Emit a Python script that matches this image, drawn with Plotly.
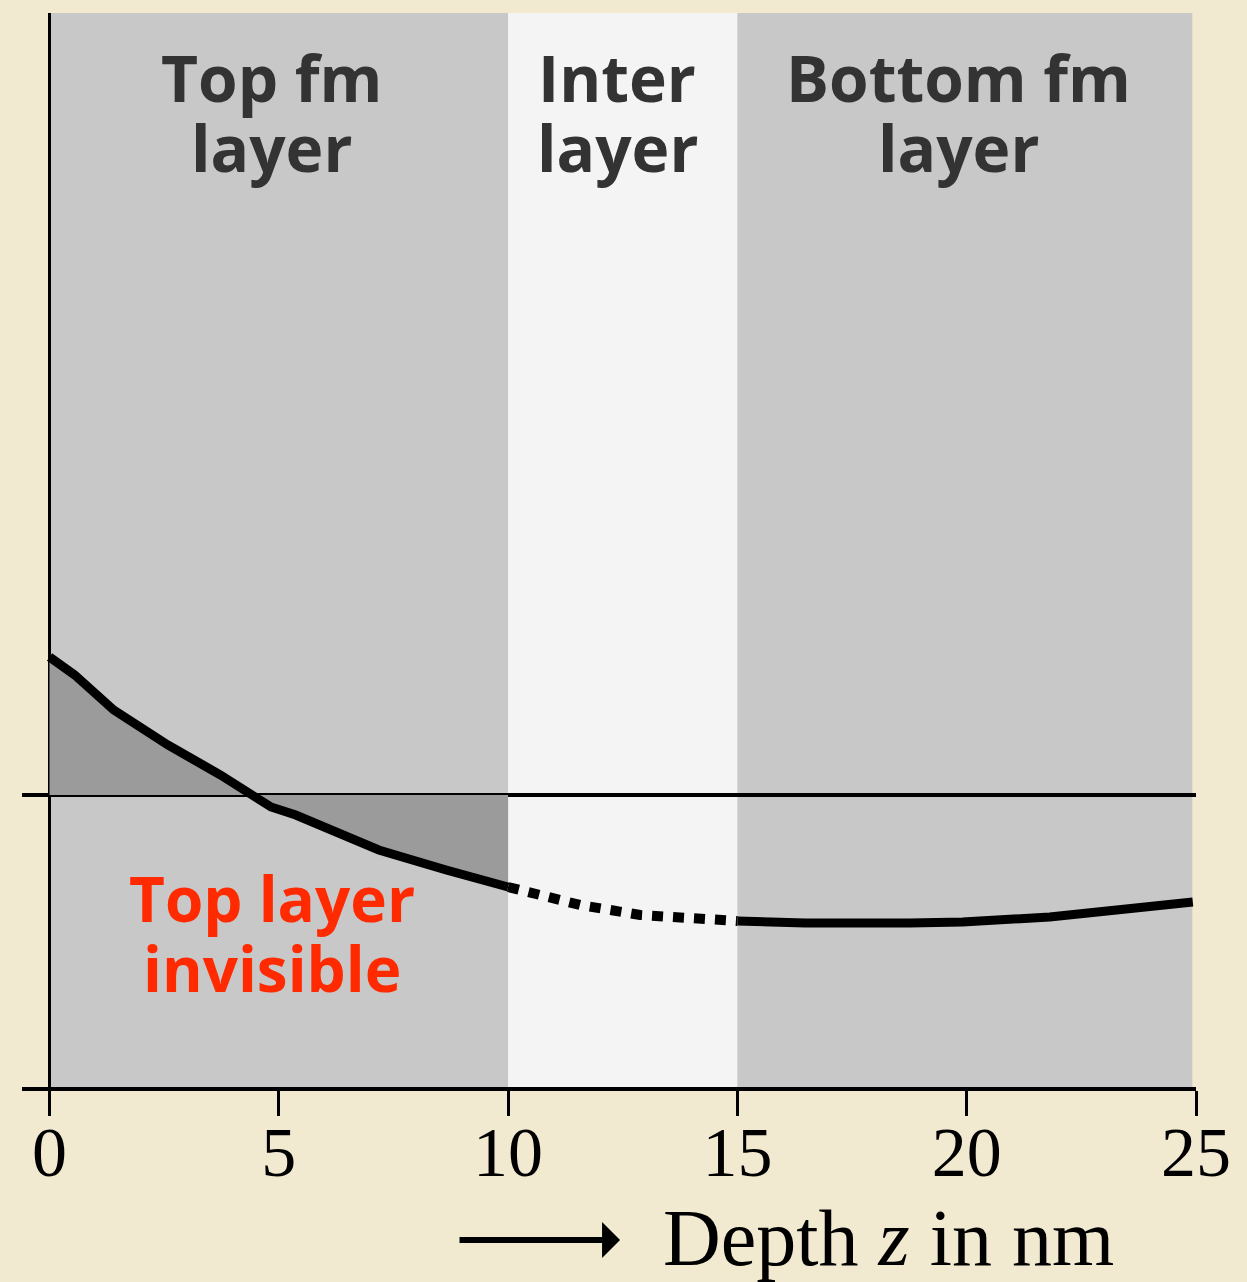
import plotly.graph_objects as go

# Magnetisation profile versus depth (arbitrary units, zero = compensation line)
top_depth = [0.0, 0.55, 1.40, 2.58, 3.73, 4.52, 4.83, 5.37, 7.18, 8.65, 10.0]
top_value = [1.38, 1.20, 0.85, 0.50, 0.20, -0.02, -0.12, -0.20, -0.55, -0.75, -0.92]

inter_depth = [10.0, 11.57, 12.88, 13.76, 15.0]
inter_value = [-0.92, -1.10, -1.20, -1.23, -1.26]

bottom_depth = [15.0, 16.48, 18.76, 19.91, 21.81, 24.93]
bottom_value = [-1.26, -1.28, -1.28, -1.27, -1.22, -1.07]

tick_values = [0, 5, 10, 15, 20, 25]
tick_labels = ["0", "5", "10", "15", "20", "25"]

# Layer bands: (start, end, colour)
layer_start = [0, 10, 15]
layer_end = [10, 15, 24.92]
layer_colour = ["#c8c8c8", "#f4f4f4", "#c8c8c8"]

PAPER = "#f2e9d1"
LABEL_FONT = "Open Sans"

fig = go.Figure()

# shaded area between top-layer profile and zero
fig.add_trace(go.Scatter(
    x=top_depth, y=top_value, mode="lines", fill="tozeroy",
    fillcolor="#9b9b9b", line=dict(width=0), hoverinfo="skip", showlegend=False))

fig.add_trace(go.Scatter(
    x=top_depth, y=top_value, mode="lines",
    line=dict(color="black", width=9), showlegend=False))
fig.add_trace(go.Scatter(
    x=inter_depth, y=inter_value, mode="lines",
    line=dict(color="black", width=10, dash="11px,10px"), showlegend=False))
fig.add_trace(go.Scatter(
    x=bottom_depth, y=bottom_value, mode="lines",
    line=dict(color="black", width=9), showlegend=False))

for s, e, c in zip(layer_start, layer_end, layer_colour):
    fig.add_shape(type="rect", xref="x", yref="y domain", x0=s, x1=e, y0=0, y1=1,
                  fillcolor=c, line=dict(width=0), layer="below")

header_font = dict(family=LABEL_FONT, size=64, color="#333333")
headers = [
    (4.85, "Top fm", "layer"),
    (12.38, "Inter", "layer"),
    (19.83, "Bottom fm", "layer"),
]
for xc, l1, l2 in headers:
    fig.add_annotation(x=xc, y=7.18, text=f"<b>{l1}</b>", showarrow=False,
                       font=header_font, xanchor="center", yanchor="middle")
    fig.add_annotation(x=xc, y=6.48, text=f"<b>{l2}</b>", showarrow=False,
                       font=header_font, xanchor="center", yanchor="middle")

red_font = dict(family=LABEL_FONT, size=62, color="#ff2a00")
fig.add_annotation(x=4.85, y=-1.03, text="<b>Top layer</b>", showarrow=False,
                   font=red_font, xanchor="center", yanchor="middle")
fig.add_annotation(x=4.85, y=-1.73, text="<b>invisible</b>", showarrow=False,
                   font=red_font, xanchor="center", yanchor="middle")

# axis title with leading arrow
fig.add_annotation(xref="paper", yref="paper", x=0.7377, y=-0.1406,
                   text="Depth <i>z</i> in nm", showarrow=False,
                   font=dict(family="Liberation Serif", size=80, color="black"),
                   xanchor="center", yanchor="middle")
fig.add_annotation(xref="paper", yref="paper", x=0.5094, y=-0.1425, text="",
                   showarrow=True, ax=-162, ay=0, arrowhead=1, arrowsize=1,
                   arrowwidth=6, arrowcolor="black")

fig.update_xaxes(
    range=[-0.6, 25.0], showgrid=False,
    showline=True, linecolor="black", linewidth=4,
    zeroline=True, zerolinecolor="black", zerolinewidth=3,
    tickmode="array", tickvals=tick_values, ticktext=tick_labels,
    ticks="outside", ticklen=25, tickwidth=3, tickcolor="black",
    ticklabelstandoff=-24,
    tickfont=dict(family="Liberation Serif", size=70, color="black"),
)
fig.update_yaxes(
    range=[-2.92, 7.82], showgrid=False, showline=False,
    showticklabels=False, ticks="",
    zeroline=True, zerolinecolor="black", zerolinewidth=4,
)

fig.update_layout(
    width=1247, height=1282,
    margin=dict(l=22, r=51, t=13, b=195),
    paper_bgcolor=PAPER, plot_bgcolor="rgba(0,0,0,0)",
    showlegend=False,
)

fig.write_html("out.html")
